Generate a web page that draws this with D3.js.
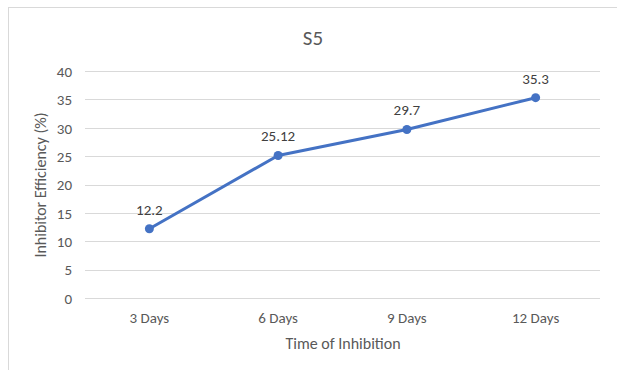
<!DOCTYPE html>
<html>
<head>
<meta charset="utf-8">
<script src="https://cdn.jsdelivr.net/npm/d3@7"></script>
<style>
  body { margin: 0; background: #fff; }
  text { font-family: Calibri, Carlito, Lato, "Open Sans", sans-serif; }
</style>
</head>
<body>
<svg width="617" height="370"></svg>
<script>
// chart data
var categories = ["3 Days", "6 Days", "9 Days", "12 Days"];
var values = [12.2, 25.12, 29.7, 35.3];
var labels = ["12.2", "25.12", "29.7", "35.3"];
var yTicks = [0, 5, 10, 15, 20, 25, 30, 35, 40];

var svg = d3.select("svg");
var textColor = "#595959";

// outer frame (only top and left edges show in the picture)
svg.append("rect")
    .attr("x", 8.5).attr("y", 7.5)
    .attr("width", 640).attr("height", 400)
    .attr("fill", "none")
    .attr("stroke", "#d9d9d9");

var plotLeft = 85, plotRight = 600, plotTop = 71, plotBottom = 298;

var x = d3.scaleBand().domain(categories).range([plotLeft, plotRight]);
var y = d3.scaleLinear().domain([0, 40]).range([plotBottom, plotTop]);

// gridlines
svg.append("g")
    .selectAll("line")
    .data(yTicks)
    .enter()
    .append("line")
    .attr("x1", plotLeft).attr("x2", plotRight)
    .attr("y1", function (d) { return Math.round(y(d)) + 0.5; })
    .attr("y2", function (d) { return Math.round(y(d)) + 0.5; })
    .attr("stroke", "#d9d9d9")
    .attr("stroke-width", 1);

// y axis labels
var yAxis = svg.append("g")
    .attr("transform", "translate(" + (plotLeft - 13) + ",0)")
    .call(d3.axisLeft(y).tickValues(yTicks).tickSize(0).tickPadding(0));
yAxis.select(".domain").remove();
yAxis.selectAll("text")
    .attr("fill", textColor)
    .style("font-size", "15px")
    .style("font-family", "Calibri, Carlito, Lato, sans-serif")
    .attr("dy", "0.35em");

// x axis labels
var xAxis = svg.append("g")
    .attr("transform", "translate(0," + (plotBottom + 14) + ")")
    .call(d3.axisBottom(x).tickSize(0).tickPadding(0));
xAxis.select(".domain").remove();
xAxis.selectAll("text")
    .attr("fill", textColor)
    .style("font-size", "15px")
    .style("font-family", "Calibri, Carlito, Lato, sans-serif")
    .attr("dy", "0.72em");

// title
svg.append("text")
    .attr("x", 313).attr("y", 45)
    .attr("text-anchor", "middle")
    .attr("fill", textColor)
    .style("font-size", "21px")
    .text("S5");

// axis titles
svg.append("text")
    .attr("x", 343).attr("y", 349)
    .attr("text-anchor", "middle")
    .attr("fill", textColor)
    .style("font-size", "16px")
    .text("Time of Inhibition");

svg.append("text")
    .attr("transform", "translate(46,185) rotate(-90)")
    .attr("text-anchor", "middle")
    .attr("fill", textColor)
    .style("font-size", "16px")
    .text("Inhibitor Efficiency (%)");

// series
var pts = categories.map(function (c, i) {
    return { c: c, v: values[i], label: labels[i] };
});

var line = d3.line()
    .x(function (d) { return x(d.c) + x.bandwidth() / 2; })
    .y(function (d) { return y(d.v); });

svg.append("path")
    .datum(pts)
    .attr("d", line)
    .attr("fill", "none")
    .attr("stroke", "#4472c4")
    .attr("stroke-width", 3)
    .attr("stroke-linejoin", "round");

svg.append("g")
    .selectAll("circle")
    .data(pts)
    .enter()
    .append("circle")
    .attr("cx", function (d) { return x(d.c) + x.bandwidth() / 2; })
    .attr("cy", function (d) { return y(d.v); })
    .attr("r", 4.5)
    .attr("fill", "#4472c4");

svg.append("g")
    .selectAll("text")
    .data(pts)
    .enter()
    .append("text")
    .attr("x", function (d) { return x(d.c) + x.bandwidth() / 2; })
    .attr("y", function (d) { return y(d.v) - 14; })
    .attr("text-anchor", "middle")
    .attr("fill", "#404040")
    .style("font-size", "15px")
    .text(function (d) { return d.label; });
</script>
</body>
</html>
